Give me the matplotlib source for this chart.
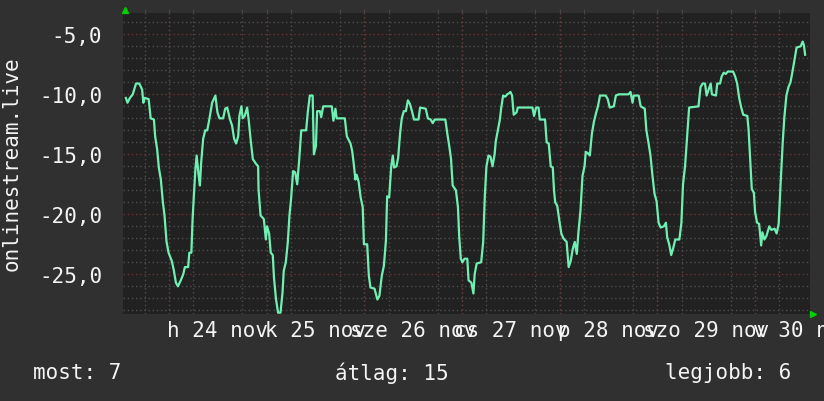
import matplotlib
matplotlib.use('Agg')
import matplotlib.pyplot as plt
import matplotlib.transforms as mtransforms
from matplotlib.ticker import MultipleLocator, FixedLocator, FuncFormatter

# hours since midnight of 24 nov, and the measured values
hours = [
    -10.6, -10.2, -9.6, -8.9, -8.1, -7.3, -6.6, -6.3, -6.0, -5.0, -4.5, -3.7, -3.4,
    -2.9, -2.5, -2.0, -1.5, -1.1, -0.6, -0.1, 0.7, 1.2, 1.7, 2.2, 2.9, 3.5, 3.9,
    4.7, 5.0, 5.5, 5.8, 6.1, 6.5, 6.8, 7.3, 7.6, 7.9, 8.4, 8.9, 9.4, 9.9, 10.6,
    11.4, 11.9, 12.4, 13.3, 13.8, 14.3, 15.0, 15.5, 16.0, 16.5,
    17.0, 17.3, 17.8, 18.1, 18.6, 19.2, 19.6, 20.1, 20.6, 21.4, 21.9, 22.0, 22.5,
    23.3, 23.8, 24.1, 24.6, 25.0, 25.5, 25.8, 26.3, 26.8, 27.4, 27.9, 28.2, 28.7,
    29.2, 29.6, 30.0, 30.5, 31.0, 31.5, 32.0, 32.5, 33.7, 34.1, 34.6, 35.3, 35.6,
    36.1, 36.4, 37.1, 37.4, 37.9, 40.0, 40.4, 40.9, 41.2, 43.2, 43.7, 44.6,
    45.0, 45.4, 45.8, 46.1, 46.6, 47.1, 47.6, 47.9, 48.7, 49.1, 49.5, 50.5, 51.2,
    51.7, 52.3, 52.8, 53.3, 53.6, 54.1, 54.6, 55.0, 55.3, 55.9, 56.3, 56.8, 57.2,
    57.7, 58.2, 58.7, 59.2, 59.7, 60.2, 61.3, 61.7, 63.1, 63.6, 64.3, 64.8, 65.3,
    67.9, 68.4, 68.9, 69.3, 69.7, 70.5, 71.0, 71.3, 71.7, 72.1, 72.6, 73.3,
    73.6, 74.3, 74.8, 75.1, 75.6, 76.7, 77.2, 77.6, 78.0, 78.5, 79.0, 79.5, 80.0,
    80.3, 80.8, 81.3, 81.6, 82.1, 82.6, 83.1, 83.6, 83.9, 84.3, 84.7, 85.4, 85.7,
    89.3, 89.7, 90.2, 90.8, 91.1, 92.4, 92.8, 93.3, 93.8, 94.3, 94.6, 94.9, 95.4,
    95.9, 96.4, 96.9, 97.7, 98.2, 98.7, 99.2, 99.7, 100.2, 100.6, 101.1, 101.6, 102.1,
    102.4, 102.9, 103.4, 103.9, 104.4, 104.9, 105.4, 105.9, 107.3, 107.8, 108.3,
    109.3, 109.8, 110.5, 112.9, 113.4, 113.9, 114.2, 115.4, 115.9, 116.9, 117.3,
    117.8, 118.3, 118.8, 119.3, 119.8, 120.3, 120.8, 121.6, 122.1, 122.4, 122.9,
    123.4, 123.9, 124.4, 125.4, 125.9, 126.3, 126.8, 127.3, 127.8, 130.1, 130.6,
    131.1, 131.7, 132.1, 132.6, 133.1, 133.4, 134.4, 134.7, 135.4, 135.8, 136.3,
    136.8, 137.3, 138.6, 139.1, 139.6, 140.1, 140.6, 141.1, 142.1, 142.4, 142.7,
    143.2, 143.7, 144.0, 144.5, 145.0, 145.5, 145.8, 146.3, 146.8, 147.5, 148.0,
    148.8, 149.3, 149.8, 150.3, 150.8, 151.2, 151.7, 152.2, 152.7, 153.2, 153.7,
    154.2, 155.2, 155.7, 156.0, 156.3,
]
values = [
    -10.3, -10.7, -10.3, -10.0, -9.1, -9.1, -9.6, -10.7, -10.3, -10.4, -12.0, -12.1, -13.5,
    -14.6, -16.1, -17.1, -19.0, -20.1, -22.3, -23.2, -23.9, -24.7, -25.7, -26.0, -25.5, -25.0, -24.4,
    -24.4, -23.2, -23.2, -20.4, -18.5, -16.2, -15.1, -16.8, -17.6, -15.7, -13.7, -13.0, -13.0, -12.1, -10.7,
    -10.1, -11.5, -12.0, -12.0, -11.2, -11.1, -12.1, -12.6, -13.7, -14.1,
    -13.5, -11.8, -11.0, -12.0, -11.8, -11.1, -12.2, -13.9, -15.4, -15.8, -16.0, -17.9, -20.1,
    -20.4, -22.1, -21.0, -21.6, -23.2, -23.4, -25.3, -27.1, -28.2, -28.2, -26.5, -24.7, -24.0,
    -22.3, -20.1, -18.7, -16.4, -16.5, -17.5, -15.4, -13.0, -13.0, -11.5, -10.1, -10.1, -15.0,
    -14.3, -11.4, -11.4, -11.9, -11.0, -11.0, -12.2, -11.2, -12.0, -12.0, -13.5, -14.1,
    -14.7, -15.8, -17.1, -16.7, -17.3, -18.6, -19.4, -22.5, -22.5, -25.1, -26.1, -26.2, -27.1,
    -26.8, -25.1, -24.3, -22.2, -18.5, -18.6, -16.0, -15.1, -16.1, -16.0, -15.3, -13.2, -12.0,
    -11.4, -11.4, -10.5, -10.8, -11.4, -12.1, -12.1, -11.1, -11.2, -12.0, -12.1, -12.4, -12.1,
    -12.1, -13.3, -14.4, -15.4, -17.6, -18.0, -19.4, -21.8, -23.7, -24.0, -23.7, -23.7,
    -25.5, -25.7, -26.6, -25.0, -24.1, -24.0, -22.3, -18.5, -16.0, -15.1, -15.2, -16.0, -15.0,
    -13.9, -13.0, -12.1, -11.2, -10.1, -10.2, -10.0, -9.9, -9.8, -10.1, -11.7, -11.5, -11.1,
    -11.1, -11.8, -11.1, -11.1, -12.1, -12.1, -14.0, -14.1, -16.0, -16.1, -18.0, -19.0, -19.3,
    -20.5, -21.6, -22.0, -22.3, -24.4, -23.9, -22.9, -22.3, -23.3, -21.5, -19.7, -16.8, -16.0,
    -14.8, -14.9, -15.1, -13.3, -12.3, -11.6, -11.0, -10.1, -10.1, -10.4, -11.1,
    -11.0, -10.1, -10.0, -10.0, -9.8, -10.7, -10.1, -10.1, -11.0, -11.2, -13.0,
    -14.0, -15.1, -16.8, -18.3, -18.9, -20.7, -21.1, -21.0, -20.7, -21.9, -22.5,
    -23.4, -22.8, -22.1, -22.1, -20.7, -17.5, -16.0, -13.6, -11.1, -11.0, -9.4,
    -9.1, -9.1, -10.1, -9.6, -9.1, -10.0, -10.1, -9.1, -9.1, -8.5, -8.2,
    -8.3, -8.1, -8.1, -8.5, -9.1, -10.3, -11.1, -11.7, -11.8, -12.9, -14.8,
    -17.9, -18.2, -19.8, -20.7, -20.8, -22.6, -21.5, -22.1, -21.8, -21.0, -21.3,
    -21.2, -21.6, -20.8, -17.3, -14.0, -11.9, -10.1, -9.4, -9.0, -8.1, -7.1,
    -6.1, -6.0, -5.6, -5.9, -6.7,
]

day_labels = ['h 24 nov', 'k 25 nov', 'sze 26 nov', 'cs 27 nov',
              'p 28 nov', 'szo 29 nov', 'v 30 nov']
day_starts = [0, 24, 48, 72, 96, 120, 144]
title = 'onlinestream.live'
summary = ['most: 7', 'átlag: 15', 'legjobb: 6']

bg = '#303030'
canvas = '#212121'
fg = '#f4f4f4'
mono = 'DejaVu Sans Mono'

fig = plt.figure(figsize=(8.24, 4.02), dpi=100, facecolor=bg)
ax = fig.add_axes([123 / 824, 87 / 402, 687 / 824, 301 / 402])
ax.set_facecolor(canvas)
for s in ax.spines.values():
    s.set_visible(False)

ax.set_xlim(-11.3, 157.5)
ax.set_ylim(-28.31, -3.22)

# grid
ax.yaxis.set_major_locator(MultipleLocator(5))
ax.yaxis.set_minor_locator(MultipleLocator(1))
ax.xaxis.set_minor_locator(MultipleLocator(6))
ax.xaxis.set_major_locator(FixedLocator([d + 12 for d in day_starts]))
ax.xaxis.set_major_formatter(FuncFormatter(lambda v, p: day_labels[p] if p is not None and p < len(day_labels) else ''))
ax.yaxis.set_major_formatter(FuncFormatter(lambda v, p: f'{v:.1f}'.replace('.', ',')))

dots = (0, (1, 2))
ax.yaxis.grid(True, which='minor', color='#4c4c4c', linestyle=dots, linewidth=1)
ax.xaxis.grid(True, which='minor', color='#4c4c4c', linestyle=dots, linewidth=1)
ax.yaxis.grid(True, which='major', color='#663434', linestyle=dots, linewidth=1)
for d in day_starts:
    ax.axvline(d, color='#663434', linestyle=dots, linewidth=1, zorder=1)
ax.set_axisbelow(True)

ax.tick_params(axis='both', which='both', length=0, colors=fg, labelsize=15)
ax.tick_params(axis='y', pad=15)
ax.tick_params(axis='x', pad=4)
ax.tick_params(axis='x', which='minor', length=3, color='#4c4c4c', top=True, bottom=False)
for lab in ax.get_xticklabels() + ax.get_yticklabels():
    lab.set_family(mono)

ax.plot(hours, values, color='#6ff0b2', linewidth=1.6, zorder=3)

# little green arrows at the axis ends
up = mtransforms.offset_copy(ax.transAxes, fig=fig, x=2, y=3, units='dots')
right = mtransforms.offset_copy(ax.transAxes, fig=fig, x=3, y=0, units='dots')
ax.plot([0], [1], marker='^', color='#00d000', markersize=5, transform=up, clip_on=False)
ax.plot([1], [0], marker='>', color='#00d000', markersize=5, transform=right, clip_on=False)

fig.text(12 / 824, 1 - 164 / 402, title, rotation=90, ha='center', va='center',
         color=fg, fontsize=15, family=mono)
fig.text(33 / 824, 1 - 373 / 402, summary[0], ha='left', va='center', color=fg, fontsize=15, family=mono)
fig.text(335 / 824, 1 - 373 / 402, summary[1], ha='left', va='center', color=fg, fontsize=15, family=mono)
fig.text(791 / 824, 1 - 373 / 402, summary[2], ha='right', va='center', color=fg, fontsize=15, family=mono)

fig.savefig('out.png', dpi=100, facecolor=bg)
